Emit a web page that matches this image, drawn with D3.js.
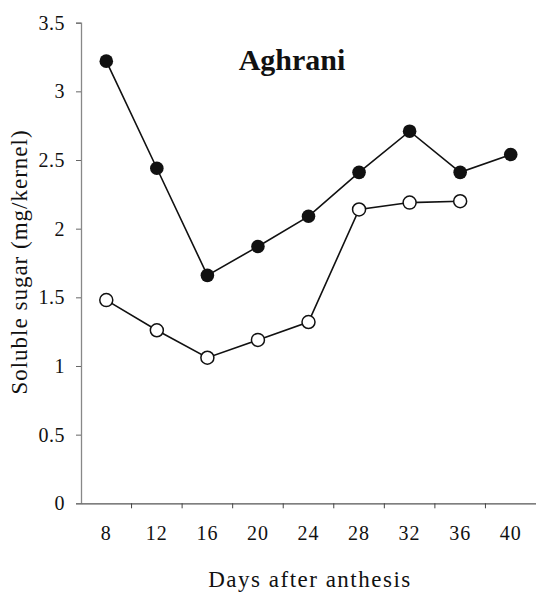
<!DOCTYPE html>
<html>
<head>
<meta charset="utf-8">
<script src="https://cdn.jsdelivr.net/npm/d3@7"></script>
<style>
  body { margin: 0; background: #fff; }
  svg text { font-family: "Liberation Serif", "DejaVu Serif", serif; fill: #111; }
</style>
</head>
<body>
<div id="chart"></div>
<script>
// values
var days = [8, 12, 16, 20, 24, 28, 32, 36, 40];
var filledSugar = [3.22, 2.44, 1.66, 1.87, 2.09, 2.41, 2.71, 2.41, 2.54];
var openDays = [8, 12, 16, 20, 24, 28, 32, 36];
var openSugar = [1.48, 1.26, 1.06, 1.19, 1.32, 2.14, 2.19, 2.20];
var yTicks = [0, 0.5, 1, 1.5, 2, 2.5, 3, 3.5];

var width = 536, height = 592;
var plotLeft = 81, plotRight = 536, plotTop = 22.7, plotBottom = 503.3;

var svg = d3.select("#chart").append("svg")
  .attr("width", width)
  .attr("height", height);

var x = d3.scaleBand()
  .domain(days)
  .range([plotLeft, plotRight]);

var y = d3.scaleLinear()
  .domain([0, 3.5])
  .range([plotBottom, plotTop]);

var cx = d => x(d) + x.bandwidth() / 2;

// y axis
var yAxis = svg.append("g")
  .attr("transform", "translate(" + plotLeft + ",0)")
  .call(d3.axisLeft(y).tickValues(yTicks)
          .tickFormat(d => String(d))
          .tickSize(5).tickPadding(11));
yAxis.select(".domain").attr("stroke", "#888").attr("stroke-width", 1.3);
yAxis.selectAll(".tick line").attr("stroke", "#666");
yAxis.selectAll("text").attr("font-size", 20).attr("letter-spacing", 0.5).attr("fill", "#111");

// x axis, ticks at the category boundaries
var xAxis = svg.append("g")
  .attr("transform", "translate(-3," + plotBottom + ")")
  .call(d3.axisBottom(x).tickSize(0).tickPadding(23));
xAxis.select(".domain").attr("stroke", "#555").attr("stroke-width", 1.2)
  .attr("transform", "translate(3,0)");
xAxis.selectAll("text").attr("font-size", 20).attr("letter-spacing", 1).attr("fill", "#111")
  .attr("transform", "translate(3,0)");

svg.append("g")
  .selectAll("line")
  .data(days.slice(1))
  .join("line")
  .attr("x1", d => x(d)).attr("x2", d => x(d))
  .attr("y1", plotBottom).attr("y2", plotBottom + 5)
  .attr("stroke", "#444").attr("stroke-width", 1);

var line = d3.line();

svg.append("path")
  .datum(days.map((d, i) => [cx(d), y(filledSugar[i])]))
  .attr("d", line)
  .attr("fill", "none").attr("stroke", "#111").attr("stroke-width", 1.6);

svg.append("path")
  .datum(openDays.map((d, i) => [cx(d), y(openSugar[i])]))
  .attr("d", line)
  .attr("fill", "none").attr("stroke", "#111").attr("stroke-width", 1.6);

svg.append("g")
  .selectAll("circle")
  .data(days)
  .join("circle")
  .attr("cx", d => cx(d))
  .attr("cy", (d, i) => y(filledSugar[i]))
  .attr("r", 6.8)
  .attr("fill", "#111");

svg.append("g")
  .selectAll("circle")
  .data(openDays)
  .join("circle")
  .attr("cx", d => cx(d))
  .attr("cy", (d, i) => y(openSugar[i]))
  .attr("r", 6.5)
  .attr("fill", "#fff")
  .attr("stroke", "#111").attr("stroke-width", 1.5);

// titles
svg.append("text")
  .attr("x", 292).attr("y", 70)
  .attr("text-anchor", "middle")
  .attr("font-size", 30).attr("font-weight", "bold")
  .text("Aghrani");

svg.append("text")
  .attr("transform", "translate(27,262) rotate(-90)")
  .attr("text-anchor", "middle")
  .attr("font-size", 23).attr("letter-spacing", 1)
  .text("Soluble sugar (mg/kernel)");

svg.append("text")
  .attr("x", 310).attr("y", 587)
  .attr("text-anchor", "middle")
  .attr("font-size", 23).attr("letter-spacing", 1.5)
  .text("Days after anthesis");
</script>
</body>
</html>
